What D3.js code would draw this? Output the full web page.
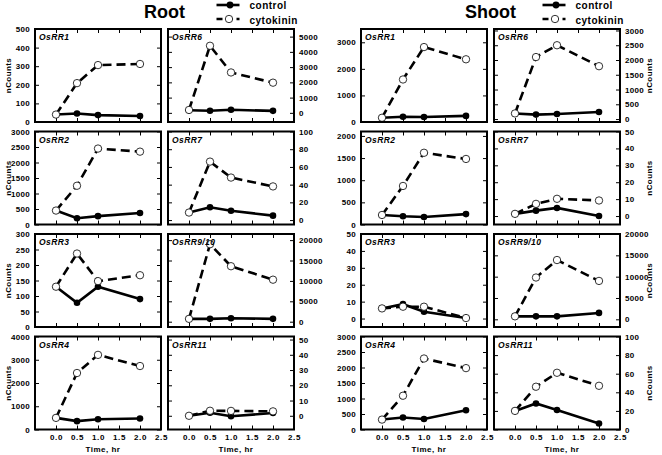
<!DOCTYPE html>
<html><head><meta charset="utf-8">
<script src="https://cdn.jsdelivr.net/npm/d3@7"></script>
<style>
html,body{margin:0;padding:0;background:#fff;}
svg{display:block;font-family:"Liberation Sans",Arial,sans-serif;}
</style></head>
<body><svg id="c" width="662" height="455"></svg>
<script>
const times = [0, 0.5, 1.0, 2.0];
const xTicks = [0, 0.5, 1.0, 1.5, 2.0, 2.5];
const genes = ["OsRR1","OsRR6","OsRR2","OsRR7","OsRR3","OsRR9/10","OsRR4","OsRR11"];

const rootControl = [
  [40, 46, 37, 32],
  [170, 140, 200, 130],
  [450, 200, 270, 370],
  [8.5, 14.5, 10.5, 5],
  [130, 78, 130, 90],
  [700, 700, 850, 700],
  [500, 360, 440, 470],
  [0, 2, -0.3, 1.8]
];
const rootCytokinin = [
  [40, 209, 306, 312],
  [190, 4400, 2650, 1980],
  [450, 1250, 2450, 2350],
  [8.5, 66, 48, 38],
  [130, 237, 148, 167],
  [700, 19000, 13600, 10300],
  [500, 2430, 3210, 2730],
  [0, 3.3, 3.2, 2.9]
];
const shootControl = [
  [160, 200, 190, 230],
  [190, 150, 170, 240],
  [215, 185, 170, 235],
  [1.3, 3.2, 4.8, 0],
  [6, 8.5, 4, 0.3],
  [700, 700, 700, 1500],
  [320, 385, 340, 620],
  [20, 28, 21, 6.5]
];
const shootCytokinin = [
  [160, 1600, 2820, 2360],
  [190, 2100, 2500, 1790],
  [215, 870, 1620, 1480],
  [1.3, 7.2, 10.2, 9.2],
  [6, 7, 7, 0.3],
  [700, 9800, 13900, 9000],
  [320, 1090, 2290, 1980],
  [20, 46, 61, 47]
];
const rootYDomain = [[0,500],[-600,5500],[0,3000],[-5,100],[0,300],[-1300,21500],[0,4000],[-9,52]];
const rootYTicks = [
  [0,100,200,300,400,500],[0,1000,2000,3000,4000,5000],
  [0,500,1000,1500,2000,2500,3000],[0,20,40,60,80,100],
  [0,50,100,150,200,250,300],[0,5000,10000,15000,20000],
  [0,1000,2000,3000,4000],[0,10,20,30,40,50]
];
const shootYDomain = [[0,3500],[-100,3050],[0,2100],[-5,50],[-5,50],[-1800,20000],[0,3000],[0,100]];
const shootYTicks = [
  [0,1000,2000,3000],[0,500,1000,1500,2000,2500,3000],
  [0,500,1000,1500,2000],[0,10,20,30,40,50],
  [0,10,20,30,40,50],[0,5000,10000,15000,20000],
  [0,500,1000,1500,2000,2500,3000],[0,20,40,60,80,100]
];

const svg = d3.select("#c");
const rowTops = [29, 131.5, 234, 336.5];
const panelH = 93, panelW = 126;
const groups = [
  {title:"Root", cols:[35,168], ctrl:rootControl, cyto:rootCytokinin, dom:rootYDomain, ticks:rootYTicks, nLabelX:11},
  {title:"Shoot", cols:[361,494], ctrl:shootControl, cyto:shootCytokinin, dom:shootYDomain, ticks:shootYTicks, nLabelX:652}
];
const lw = 2.6;

groups.forEach((g, gi) => {
  const cx = (g.cols[0] + g.cols[1] + panelW) / 2;
  svg.append("text").attr("x", cx).attr("y", 18).attr("text-anchor","middle")
    .attr("font-size", 18).attr("font-weight","bold").text(g.title);
  // legend
  const lx0 = cx + 52, lx1 = cx + 75, tx = cx + 85;
  svg.append("line").attr("x1", lx0).attr("x2", lx1).attr("y1", 5).attr("y2", 5)
    .attr("stroke","#000").attr("stroke-width", lw);
  svg.append("circle").attr("cx", (lx0+lx1)/2 + 2).attr("cy", 5).attr("r", 3.4).attr("fill","#000");
  svg.append("text").attr("x", tx).attr("y", 9).attr("font-size", 10).attr("font-weight","bold")
    .attr("letter-spacing", 0.5).text("control");
  svg.append("line").attr("x1", lx0).attr("x2", lx1).attr("y1", 19).attr("y2", 19)
    .attr("stroke","#000").attr("stroke-width", lw).attr("stroke-dasharray","6,4");
  svg.append("circle").attr("cx", (lx0+lx1)/2 + 1).attr("cy", 19).attr("r", 3.7)
    .attr("fill","#fff").attr("stroke","#000").attr("stroke-width", 0.8);
  svg.append("text").attr("x", tx).attr("y", 24).attr("font-size", 10).attr("font-weight","bold")
    .attr("letter-spacing", 0.5).text("cytokinin");

  genes.forEach((gene, i) => {
    const row = Math.floor(i / 2), col = i % 2;
    const left = g.cols[col], top = rowTops[row];
    const x = d3.scaleLinear().domain([-0.5, 2.5]).range([left, left + panelW]);
    const y = d3.scaleLinear().domain(g.dom[i]).range([top + panelH, top]);
    const p = svg.append("g");
    const yAxL = d3.axisRight(y).tickValues(g.ticks[i]).tickSize(4).tickFormat("");
    const yAxR = d3.axisLeft(y).tickValues(g.ticks[i]).tickSize(4).tickFormat("");
    const xAxT = d3.axisBottom(x).tickValues([0,0.5,1,1.5,2]).tickSize(4).tickFormat("");
    const xAxB = d3.axisTop(x).tickValues([0,0.5,1,1.5,2]).tickSize(4).tickFormat("");
    [[yAxL, `translate(${left},0)`],[yAxR, `translate(${left+panelW},0)`],
     [xAxT, `translate(0,${top})`],[xAxB, `translate(0,${top+panelH})`]].forEach(([ax,tr]) => {
      const a = p.append("g").attr("transform", tr).call(ax);
      a.select(".domain").remove();
      a.selectAll("line").attr("stroke","#000").attr("stroke-width",1);
    });
    const outer = col === 0 ? d3.axisLeft(y) : d3.axisRight(y);
    const ya = p.append("g").attr("transform", `translate(${col===0?left:left+panelW},0)`)
      .call(outer.tickValues(g.ticks[i]).tickSize(0).tickPadding(5).tickFormat(d3.format("d")));
    ya.select(".domain").remove();
    ya.selectAll("text").attr("font-size", 8).attr("font-weight","bold")
      .attr("font-family",'"Liberation Sans",Arial,sans-serif').attr("fill","#000").attr("letter-spacing",0.3);
    if (row === 3) {
      const xa = p.append("g").attr("transform", `translate(0,${top+panelH})`)
        .call(d3.axisBottom(x).tickValues(xTicks).tickSize(0).tickPadding(5).tickFormat(d3.format(".1f")));
      xa.select(".domain").remove();
      xa.selectAll("text").attr("font-size", 8).attr("font-weight","bold")
        .attr("font-family",'"Liberation Sans",Arial,sans-serif').attr("fill","#000").attr("letter-spacing",0.6);
      svg.append("text").attr("x", left + panelW/2 + 5).attr("y", 452).attr("text-anchor","middle")
        .attr("font-size", 8).attr("font-weight","bold").attr("letter-spacing",0.5).text("Time, hr");
    }
    const cid = `clip${gi}_${i}`;
    svg.append("clipPath").attr("id", cid).append("rect")
      .attr("x", left).attr("y", top).attr("width", panelW).attr("height", panelH);
    const plot = p.append("g").attr("clip-path", `url(#${cid})`);
    const line = d3.line().x((d,k) => x(times[k])).y(d => y(d));
    plot.append("path").datum(g.ctrl[i]).attr("d", line).attr("fill","none")
      .attr("stroke","#000").attr("stroke-width", lw);
    plot.selectAll(".cm").data(g.ctrl[i]).join("circle")
      .attr("cx",(d,k)=>x(times[k])).attr("cy",d=>y(d)).attr("r",3.3).attr("fill","#000");
    plot.append("path").datum(g.cyto[i]).attr("d", line).attr("fill","none")
      .attr("stroke","#000").attr("stroke-width", lw).attr("stroke-dasharray","9,5");
    plot.selectAll(".ym").data(g.cyto[i]).join("circle")
      .attr("cx",(d,k)=>x(times[k])).attr("cy",d=>y(d)).attr("r",3.7)
      .attr("fill","#fff").attr("stroke","#000").attr("stroke-width",0.8);
    p.append("rect").attr("x", left).attr("y", top).attr("width", panelW).attr("height", panelH)
      .attr("fill","none").attr("stroke","#000").attr("stroke-width", 2);
    p.append("text").attr("x", left + 4).attr("y", top + 11).attr("font-size", 8.5)
      .attr("font-weight","bold").attr("font-style","italic").attr("letter-spacing",0.4).text(gene);
  });
  rowTops.forEach(t => {
    svg.append("text").attr("transform", `translate(${g.nLabelX},${t + panelH/2}) rotate(-90)`)
      .attr("text-anchor","middle").attr("font-size", 8).attr("font-weight","bold")
      .attr("letter-spacing",0.4).text("nCounts");
  });
});
</script></body></html>
